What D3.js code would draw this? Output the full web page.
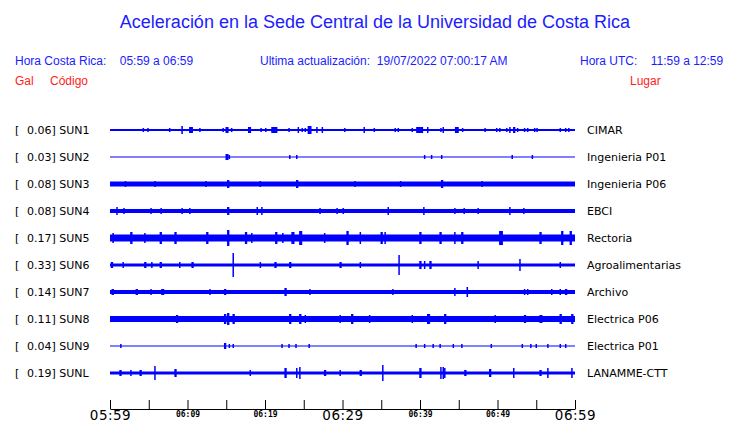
<!DOCTYPE html>
<html>
<head>
<meta charset="utf-8">
<script src="https://cdn.jsdelivr.net/npm/d3@7"></script>
<style>
  body { margin: 0; background: #fff; }
  svg { display: block; }
</style>
</head>
<body>
<svg width="740" height="423"></svg>
<script>
// station table
var codes = ["SUN1", "SUN2", "SUN3", "SUN4", "SUN5", "SUN6", "SUN7", "SUN8", "SUN9", "SUNL"];
var gals = [0.06, 0.03, 0.08, 0.08, 0.17, 0.33, 0.14, 0.11, 0.04, 0.19];
var places = ["CIMAR", "Ingenieria P01", "Ingenieria P06", "EBCI", "Rectoria",
  "Agroalimentarias", "Archivo", "Electrica P06", "Electrica P01", "LANAMME-CTT"];

// background noise half-amplitude of each trace
var baseAmp = [1, 0.5, 2.5, 2, 3.5, 1.5, 2, 3, 0.5, 1.5];

// bursts per station: [minute after 05:59, half-amplitude, duration in minutes]
var bursts = [
  [[4.3,2,0],[4.9,2,0],[7.7,2,0],[9.3,4,0.2],[10.3,3,0.5],[11.6,2,0],[14.6,2,0],[15.0,3,0.4],[15.7,2,0],
   [17.9,3,0.4],[19.5,2,0],[20.1,2,0],[20.9,3,0.8],[23.1,2,0],[24.3,3,0],[24.8,2,0],[25.2,2,0],[25.6,4,0.5],
   [26.7,3,0],[27.4,3,0],[30.3,2,0],[32.8,3,0],[34.1,2,0],[36.8,2,0],[37.2,2,0],[39.0,2,0],[39.6,3,0.9],
   [41.0,3,0],[42.7,2,0],[43.0,3,0],[44.6,3,0.5],[45.5,2,0],[48.4,2,0],[49.9,2,0],[50.3,2,0],[51.2,2,0],
   [51.6,3,0],[52.1,3,0.3],[52.6,2,0],[53.5,2,0],[53.9,2,0],[54.8,2,0],[55.1,2,0],[58.1,2,0],[58.8,2,0],[59.2,2,0]],
  [[15.0,3,0.4],[15.4,2,0],[23.2,2,0],[24.1,2,0],[40.6,2,0],[41.5,2,0],[42.8,2,0],[51.9,2,0],[54.5,2,0]],
  [[2.0,3,0],[5.8,3,0],[12.4,3,0],[15.2,4,0.3],[19.4,3,0],[24.1,4,0.3],[31.6,3,0],[37.5,3,0],[42.8,4,0.3],[48.0,3,0]],
  [[0.9,4,0],[1.8,3,0],[5.3,3,0],[6.6,3,0],[9.3,3,0],[10.3,3,0],[15.2,4,0.3],[19.0,4,0],[19.6,4,0],
   [27.1,3,0],[29.3,3,0],[30.1,3,0],[35.9,4,0],[40.5,4,0],[44.5,3,0],[45.7,3,0],[47.5,3,0],[51.6,4,0],[53.4,3,0]],
  [[0.4,5,0.2],[2.7,6,0.3],[4.5,5,0],[6.5,6,0.3],[8.4,6,0.3],[12.5,6,0.3],[15.2,8,0.3],[17.5,6,0.3],[18.3,5,0],
   [21.4,6,0.3],[22.3,5,0],[23.5,6,0.4],[24.5,7,0.4],[27.7,5,0],[30.6,7,0.3],[32.3,6,0],[35.0,6,0.3],[35.5,6,0],
   [40.0,6,0.3],[42.6,6,0.3],[44.5,6,0],[45.4,6,0.3],[50.3,7,0.5],[55.5,6,0.3],[58.3,7,0.3],[59.4,7,0.3]],
  [[0.2,3,0.3],[1.7,3,0],[4.5,3,0.3],[5.4,3,0],[6.5,3,0.3],[9.0,3,0],[10.6,3,0.3],[15.9,12,0],[19.4,3,0],
   [21.3,3,0.3],[23.2,3,0.3],[29.7,3,0.3],[32.3,3,0],[37.3,10,0],[40.0,4,0.3],[40.6,4,0],[41.3,4,0.3],
   [47.5,4,0],[52.9,6,0],[58.1,3,0]],
  [[0.3,3,0.3],[3.4,3,0.3],[5.3,3,0],[6.7,3,0.4],[12.9,3,0],[14.8,3,0.3],[22.6,4,0.3],[25.8,3,0],[36.5,3,0],
   [44.5,4,0],[46.1,5,0.2],[53.5,3,0],[53.9,3,0],[57.0,3,0],[58.1,3,0],[58.8,3,0.3]],
  [[8.6,4,0.3],[14.8,5,0.3],[15.2,6,0.3],[15.9,5,0.3],[23.2,5,0.3],[24.5,5,0.3],[25.2,4,0],[29.7,4,0],
   [31.2,5,0.3],[33.5,4,0],[39.0,4,0],[41.0,5,0.4],[43.2,5,0.3],[49.7,4,0],[53.5,4,0.3],[55.5,4,0.4],[58.1,5,0.3],[59.6,5,0.3]],
  [[1.4,2,0],[14.8,3,0.3],[15.4,2,0],[15.9,2,0],[22.2,2,0],[23.1,2,0],[24.0,2,0],[25.7,2,0],[39.5,2,0],
   [40.6,2,0],[41.7,2,0],[42.6,2,0],[44.3,2,0],[45.4,2,0],[49.2,2,0],[53.2,2,0],[54.3,2,0],[55.0,2,0],
   [56.5,2,0],[58.1,2,0],[58.8,2,0]],
  [[1.3,3,0.3],[2.7,3,0],[3.9,3,0.3],[5.8,7,0],[8.4,4,0.3],[18.1,3,0],[22.6,5,0.3],[24.1,5,0],[24.5,6,0],
   [27.7,3,0.3],[29.7,3,0],[32.3,3,0.3],[35.2,8,0],[40.0,5,0.3],[42.7,6,0],[43.0,6,0],[43.2,5,0],[45.8,3,0.3],
   [49.0,4,0.3],[52.1,5,0],[55.5,3,0.3],[56.5,5,0],[59.6,5,0.2]]
];

var tickMinutes = [0, 5, 10, 15, 20, 25, 30, 35, 40, 45, 50, 55, 60];
var tickLabels = {0: "05:59", 10: "06:09", 20: "06:19", 30: "06:29", 40: "06:39", 50: "06:49", 60: "06:59"};
var bigLabels = [0, 30, 60];

var svg = d3.select("svg");
var blue = "#1c1cff", red = "#ff1c1c", trace = "#0000ff";

// header
svg.append("text").attr("x", 375).attr("y", 28).attr("text-anchor", "middle")
  .style("font", "18px 'Liberation Sans', Arial, sans-serif").attr("fill", blue)
  .text("Aceleración en la Sede Central de la Universidad de Costa Rica");

var head = svg.append("g").style("font", "12px 'Liberation Sans', Arial, sans-serif");
head.append("text").attr("x", 15).attr("y", 65).attr("fill", blue).attr("xml:space", "preserve")
  .text("Hora Costa Rica:    05:59 a 06:59");
head.append("text").attr("x", 260).attr("y", 65).attr("fill", blue).attr("xml:space", "preserve")
  .text("Ultima actualización:  19/07/2022 07:00:17 AM");
head.append("text").attr("x", 580).attr("y", 65).attr("fill", blue).attr("xml:space", "preserve")
  .text("Hora UTC:    11:59 a 12:59");
head.append("text").attr("x", 15).attr("y", 85).attr("fill", red).text("Gal");
head.append("text").attr("x", 50).attr("y", 85).attr("fill", red).text("Código");
head.append("text").attr("x", 630).attr("y", 85).attr("fill", red).text("Lugar");

// scales
var x = d3.scaleLinear().domain([0, 60]).range([110, 575]);
var y = d3.scalePoint().domain(codes).range([130, 373]);
var amp = d3.scaleLinear().domain([-10, 10]).range([10, -10]);

// rows
var row = svg.append("g").selectAll("g").data(codes).enter().append("g")
  .attr("transform", function(d) { return "translate(0," + y(d) + ")"; });

var lab = "11px 'DejaVu Sans', sans-serif";
row.append("text").attr("x", 15).attr("dy", "0.35em").style("font", lab).text("[");
row.append("text").attr("x", 27).attr("dy", "0.35em").style("font", lab)
  .text(function(d, i) { return gals[i].toFixed(2) + "] " + d; });
row.append("text").attr("x", 587).attr("dy", "0.35em").style("font", lab)
  .text(function(d, i) { return places[i]; });

// baseline noise band
row.append("rect")
  .attr("x", x(0)).attr("width", x(60) - x(0))
  .attr("y", function(d, i) { return amp(baseAmp[i]); })
  .attr("height", function(d, i) { return amp(-baseAmp[i]) - amp(baseAmp[i]); })
  .attr("fill", trace);

// bursts
row.each(function(d, i) {
  d3.select(this).selectAll("rect.b").data(bursts[i]).enter().append("rect")
    .attr("class", "b")
    .attr("x", function(b) { return x(b[0]) - 0.75; })
    .attr("width", function(b) { return Math.max(1.5, x(b[0] + b[2]) - x(b[0])); })
    .attr("y", function(b) { return amp(b[1]); })
    .attr("height", function(b) { return amp(-b[1]) - amp(b[1]); })
    .attr("fill", trace);
});

// time axis
var axis = d3.axisBottom(x).tickValues(tickMinutes).tickSize(-9).tickSizeOuter(0)
  .tickFormat(function(m) { return tickLabels[m] || ""; });
var ag = svg.append("g").attr("transform", "translate(0,409)").call(axis);
ag.select(".domain").attr("stroke", "#000");
ag.selectAll(".tick line").attr("stroke", "#000");
ag.selectAll(".tick text")
  .attr("fill", "#000")
  .attr("dy", null)
  .attr("y", function(m) { return bigLabels.indexOf(m) >= 0 ? 11 : 8; })
  .style("font", function(m) {
    return bigLabels.indexOf(m) >= 0 ? "13.5px 'DejaVu Sans', sans-serif" : "bold 8px 'DejaVu Sans Mono', monospace";
  })
  .style("letter-spacing", function(m) { return bigLabels.indexOf(m) >= 0 ? "0.5px" : null; });
</script>
</body>
</html>
